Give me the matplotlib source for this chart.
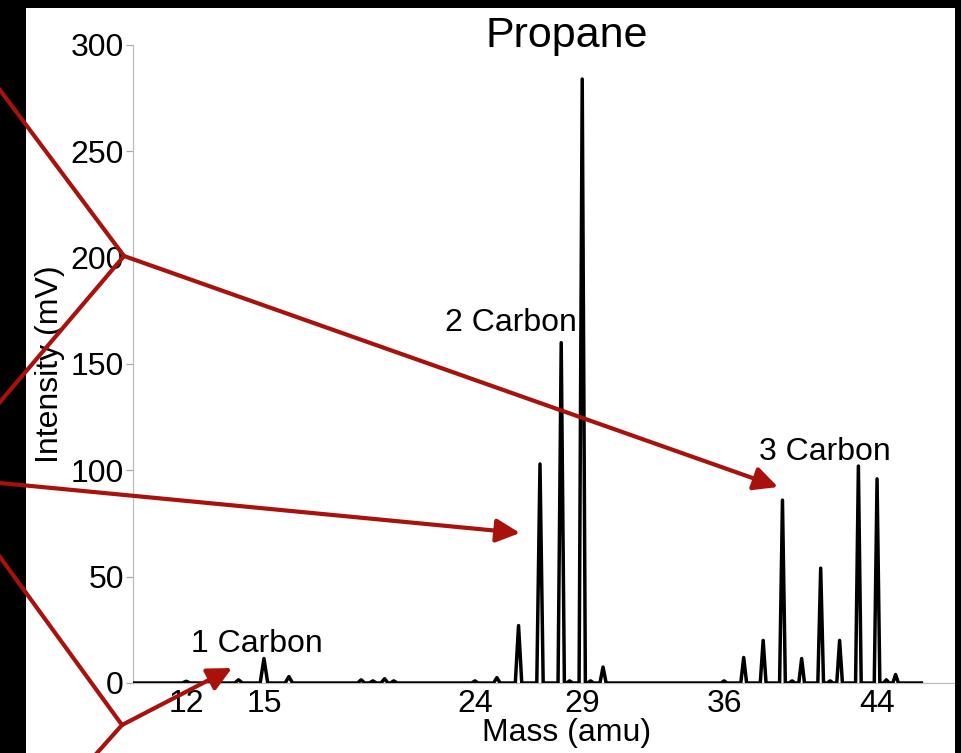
import numpy as np
import matplotlib
matplotlib.use('Agg')
import matplotlib.pyplot as plt
from matplotlib.patches import Rectangle

plt.rcParams['font.family'] = ['Liberation Sans', 'DejaVu Sans']

# Peaks (mass in amu, intensity in mV)
peak_mass = [12, 14, 15, 16, 19, 19.5, 20, 20.4,
             24, 25, 26, 27, 28, 28.4, 29, 29.4, 30,
             36, 37, 38, 39, 39.5, 40, 41, 41.5, 42, 43, 44, 44.5, 45]
peak_intensity = [0.8, 1.5, 11.5, 3, 1.5, 1, 2, 1,
                  1, 2.5, 27, 103, 160, 1, 284, 1, 7.5,
                  1, 12, 20, 86, 1, 11.5, 54, 1, 20, 102, 96, 1.5, 4]
scan_start, scan_end = 10.06, 46.4

mass_ticks = [12, 15, 24, 29, 36, 44]
intensity_ticks = [0, 50, 100, 150, 200, 250, 300]

group_labels = ['1 Carbon', '2 Carbon', '3 Carbon']
group_label_mass = [14.7, 25.66, 41.2]
group_label_height = [14.7, 165.6, 104.8]

# the mass axis of the instrument is not linear
def fwd(m):
    return np.power(np.abs(m), 0.72)

def inv(t):
    return np.power(np.abs(t), 1 / 0.72)

W, H = 962, 753
fig = plt.figure(figsize=(W / 100, H / 100), dpi=100)
ax = fig.add_axes([133 / W, 70 / H, 868 / W, 638 / H])

# build the trace: thin spikes on a flat baseline
half_w = 0.15
xs, ys = [scan_start], [0]
for m, h in sorted(zip(peak_mass, peak_intensity)):
    xs += [m - half_w, m, m + half_w]
    ys += [0, h, 0]
xs.append(scan_end)
ys.append(0)
ax.plot(xs, ys, color='black', lw=2.5, solid_joinstyle='round', zorder=3)

ax.set_xscale('function', functions=(fwd, inv))
ax.set_xlim(10.06, 50.8)
ax.set_ylim(0, 300)
ax.set_xticks(mass_ticks)
ax.set_xticklabels([str(t) for t in mass_ticks])
ax.set_yticks(intensity_ticks)
ax.minorticks_off()

for s in ['top', 'right']:
    ax.spines[s].set_visible(False)
for s in ['left', 'bottom']:
    ax.spines[s].set_color('#bdbdbd')
    ax.spines[s].set_linewidth(0.9)

ax.tick_params(axis='y', direction='out', length=5, width=0.9, color='#aaaaaa',
               labelsize=23, pad=1.5)
ax.tick_params(axis='x', length=0, labelsize=23, pad=4)

ax.set_xlabel('Mass (amu)', fontsize=23, labelpad=-0.5)
ax.set_ylabel('Intensity (mV)', fontsize=23, labelpad=4)
ax.text(0.5, 0.997, 'Propane', transform=ax.transAxes, fontsize=31,
        ha='center', va='baseline')

for lab, m, h in zip(group_labels, group_label_mass, group_label_height):
    ax.text(m, h, lab, fontsize=23, ha='center', va='baseline')

# overlay in pixel units for the frame and the red pointer lines
ov = fig.add_axes([0, 0, 1, 1], zorder=10)
ov.set_xlim(0, W)
ov.set_ylim(H, 0)
ov.axis('off')
ov.add_patch(Rectangle((0, 0), W, 8, color='black', lw=0))
ov.add_patch(Rectangle((0, 0), 26, H, color='black', lw=0))
ov.add_patch(Rectangle((955, 0), 7, H, color='black', lw=0))

red = '#a8110c'
lw_red = 3.0
ov.plot([0, 124, 0], [90, 256, 402], color=red, lw=lw_red, solid_joinstyle='miter')
ov.plot([0, 122, 97], [557, 725, 753], color=red, lw=lw_red, solid_joinstyle='miter')

arrow = dict(arrowstyle='-|>,head_length=0.85,head_width=0.42', color=red,
             lw=lw_red, shrinkA=0, shrinkB=0, mutation_scale=17)
ov.annotate('', xy=(778, 487), xytext=(124, 256), arrowprops=arrow)
ov.annotate('', xy=(520, 533), xytext=(0, 483), arrowprops=arrow)
ov.annotate('', xy=(232, 668), xytext=(122, 725), arrowprops=arrow)

fig.savefig('out.png', dpi=100)
